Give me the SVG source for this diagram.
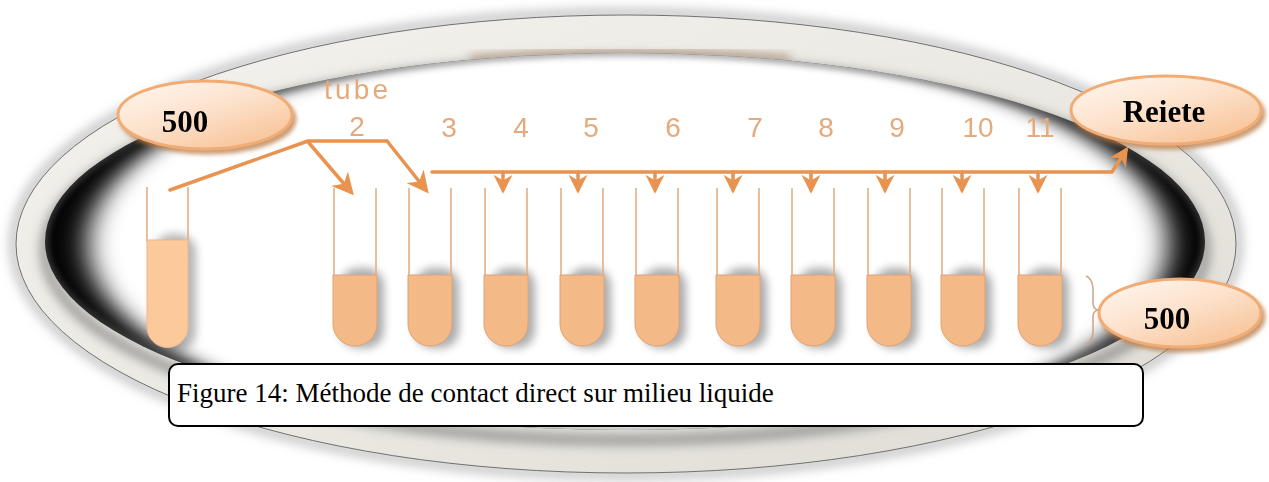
<svg xmlns="http://www.w3.org/2000/svg" xmlns:xlink="http://www.w3.org/1999/xlink" width="1269" height="482" viewBox="0 0 1269 482">
  <defs>
    <style>
      .wall { stroke: #e4ae84; stroke-width: 1.6; fill: none; }
      .liquid { fill: #f3b987; stroke: #e2a274; stroke-width: 1; }
      .liquid-pale { fill: #fcc99b; stroke: #eeb88a; stroke-width: 1; }
      .num { font-family: "Liberation Sans", Arial, sans-serif; font-size: 28px; fill: #e4aa7c; }
      .flow { stroke: #e8934f; stroke-width: 3.5; fill: none; stroke-linejoin: round; stroke-linecap: round; }
      .bubble { fill: url(#bubbleFill); stroke: #f1ac74; stroke-width: 3; }
      .bubble-text { font-family: "Liberation Serif", "Times New Roman", serif; font-weight: bold; font-size: 31px; fill: #000; }
      .caption-text { font-family: "Liberation Serif", "Times New Roman", serif; font-size: 27px; fill: #000; }
    </style>

    <linearGradient id="bubbleFill" x1="0" y1="0" x2="0.8" y2="1">
      <stop offset="0" stop-color="#fff8f2"/>
      <stop offset="0.5" stop-color="#fde2cc"/>
      <stop offset="1" stop-color="#f7c296"/>
    </linearGradient>
    <linearGradient id="ringFill" x1="0" y1="0" x2="1" y2="1">
      <stop offset="0" stop-color="#f3f2ee"/>
      <stop offset="0.6" stop-color="#e9e7e0"/>
      <stop offset="1" stop-color="#dcdad2"/>
    </linearGradient>

    <filter id="soft" x="-10%" y="-10%" width="120%" height="120%">
      <feGaussianBlur stdDeviation="0.7"/>
    </filter>
    <filter id="blur3" x="-10%" y="-10%" width="120%" height="120%">
      <feGaussianBlur stdDeviation="3"/>
    </filter>
    <filter id="blur4" x="-50%" y="-50%" width="200%" height="200%">
      <feGaussianBlur stdDeviation="4"/>
    </filter>
    <filter id="blur6" x="-10%" y="-10%" width="120%" height="120%">
      <feGaussianBlur stdDeviation="6"/>
    </filter>
    <filter id="innerFade" x="-10%" y="-10%" width="120%" height="120%">
      <feGaussianBlur stdDeviation="14 7"/>
    </filter>
    <filter id="bubbleShadow" x="-20%" y="-20%" width="140%" height="150%">
      <feGaussianBlur in="SourceAlpha" stdDeviation="2"/>
      <feOffset dx="3" dy="4" result="b"/>
      <feFlood flood-color="#b97a45" flood-opacity="0.75"/>
      <feComposite in2="b" operator="in"/>
      <feMerge><feMergeNode/><feMergeNode in="SourceGraphic"/></feMerge>
    </filter>

    <clipPath id="insideRing">
      <ellipse cx="625" cy="241.5" rx="580" ry="188.5"/>
    </clipPath>
    <clipPath id="ringBand">
      <path clip-rule="evenodd" d="M16,244 A610,229 0 1,0 1236,244 A610,229 0 1,0 16,244 Z M45,241.5 A580,188.5 0 1,0 1205,241.5 A580,188.5 0 1,0 45,241.5 Z"/>
    </clipPath>

    <marker id="head" viewBox="0 0 10 10" refX="8" refY="5" markerWidth="22" markerHeight="22" markerUnits="userSpaceOnUse" orient="auto">
      <path d="M0,0 L10,5 L0,10 L3,5 Z" fill="#e8934f"/>
    </marker>
    <marker id="headSmall" viewBox="0 0 10 10" refX="8" refY="5" markerWidth="19" markerHeight="19" markerUnits="userSpaceOnUse" orient="auto">
      <path d="M0,0 L10,5 L0,10 L3,5 Z" fill="#e8934f"/>
    </marker>

    <!-- one test tube, centred on x = 0 -->
    <g id="tubeShape">
      <rect x="-15" y="268" width="44" height="80" rx="18" fill="#4a4a4a" opacity="0.45" filter="url(#blur4)"/>
      <line class="wall" x1="-21" y1="188" x2="-21" y2="278"/>
      <line class="wall" x1="21" y1="188" x2="21" y2="278"/>
      <path class="liquid" d="M-22,275 H22 V324 A22,22 0 0 1 -22,324 Z"/>
    </g>
  </defs>

  <rect width="1269" height="482" fill="#ffffff"/>

  <!-- elliptical frame -->
  <g id="ring">
    <ellipse cx="626" cy="244" rx="612" ry="231" fill="none" stroke="#a0a0a0" stroke-width="6" filter="url(#blur6)"/>
    <path fill="url(#ringFill)" fill-rule="evenodd" d="M16,244 A610,229 0 1,0 1236,244 A610,229 0 1,0 16,244 Z M45,241.5 A580,188.5 0 1,0 1205,241.5 A580,188.5 0 1,0 45,241.5 Z"/>
    <g clip-path="url(#ringBand)">
      <ellipse cx="625" cy="250" rx="580" ry="190" fill="none" stroke="#808080" stroke-width="8" filter="url(#blur6)"/>
      <path d="M470,58 Q630,46 790,58" stroke="#8a5a32" stroke-width="5" fill="none" opacity="0.6" filter="url(#blur4)"/>
    </g>
    <ellipse cx="626" cy="244" rx="610" ry="229" fill="none" stroke="#707070" stroke-width="1"/>
    <!-- inner shade: deep at the two ends, faint along top and bottom -->
    <g clip-path="url(#insideRing)">
      <rect x="0" y="0" width="1269" height="482" fill="#050505"/>
      <ellipse cx="628" cy="244" rx="540" ry="200" fill="#ffffff" filter="url(#innerFade)"/>
      <ellipse cx="625" cy="241.5" rx="580" ry="188.5" fill="none" stroke="#6a6a6a" stroke-width="6" opacity="0.55" filter="url(#blur3)"/>
    </g>
  </g>

  <!-- test tubes -->
  <g id="tube-1">
    <rect x="154" y="234" width="42" height="116" rx="18" fill="#4a4a4a" opacity="0.4" filter="url(#blur4)"/>
    <line class="wall" x1="147" y1="187" x2="147" y2="242"/>
    <line class="wall" x1="188" y1="187" x2="188" y2="242"/>
    <path class="liquid-pale" d="M147,240 H188 V327 A20.5,20.5 0 0 1 147,327 Z"/>
  </g>
  <g id="tube-2" transform="translate(355,0)"><use xlink:href="#tubeShape"/></g>
  <g id="tube-3" transform="translate(430,0)"><use xlink:href="#tubeShape"/></g>
  <g id="tube-4" transform="translate(506,0)"><use xlink:href="#tubeShape"/></g>
  <g id="tube-5" transform="translate(582,0)"><use xlink:href="#tubeShape"/></g>
  <g id="tube-6" transform="translate(657,0)"><use xlink:href="#tubeShape"/></g>
  <g id="tube-7" transform="translate(738,0)"><use xlink:href="#tubeShape"/></g>
  <g id="tube-8" transform="translate(813,0)"><use xlink:href="#tubeShape"/></g>
  <g id="tube-9" transform="translate(889,0)"><use xlink:href="#tubeShape"/></g>
  <g id="tube-10" transform="translate(963,0)"><use xlink:href="#tubeShape"/></g>
  <g id="tube-11" transform="translate(1040,0)"><use xlink:href="#tubeShape"/></g>

  <!-- tube numbering -->
  <g id="tube-labels" filter="url(#soft)">
    <text class="num" x="356" y="99" text-anchor="middle" textLength="64" lengthAdjust="spacing" fill="#e9bb95">tube</text>
    <text class="num" x="357" y="136" text-anchor="middle">2</text>
    <text class="num" x="449" y="137" text-anchor="middle">3</text>
    <text class="num" x="521" y="137" text-anchor="middle">4</text>
    <text class="num" x="591" y="137" text-anchor="middle">5</text>
    <text class="num" x="673" y="137" text-anchor="middle">6</text>
    <text class="num" x="755" y="137" text-anchor="middle">7</text>
    <text class="num" x="826" y="137" text-anchor="middle">8</text>
    <text class="num" x="897" y="137" text-anchor="middle">9</text>
    <text class="num" x="978" y="137" text-anchor="middle">10</text>
    <text class="num" x="1040" y="137" text-anchor="middle">11</text>
  </g>

  <!-- transfer arrows -->
  <g id="connectors" filter="url(#soft)">
    <path class="flow" d="M170,190 L308,141 L387,141"/>
    <path class="flow" d="M309,143 L351,192" marker-end="url(#head)"/>
    <path class="flow" d="M387,141 L426,190" marker-end="url(#head)"/>
    <path class="flow" d="M432,172 L1112,172 L1126,150" marker-end="url(#headSmall)"/>
    <path class="flow" d="M503,172 L503,190" marker-end="url(#headSmall)"/>
    <path class="flow" d="M578,172 L578,190" marker-end="url(#headSmall)"/>
    <path class="flow" d="M655,172 L655,190" marker-end="url(#headSmall)"/>
    <path class="flow" d="M733,172 L733,190" marker-end="url(#headSmall)"/>
    <path class="flow" d="M811,172 L811,190" marker-end="url(#headSmall)"/>
    <path class="flow" d="M885,172 L885,190" marker-end="url(#headSmall)"/>
    <path class="flow" d="M962,172 L962,190" marker-end="url(#headSmall)"/>
    <path class="flow" d="M1038,172 L1038,190" marker-end="url(#headSmall)"/>
  </g>

  <!-- brace grouping the tubes -->
  <g id="brace">
    <path d="M1086,276 Q1094,279 1093,296 L1093,303 Q1093,309 1098,310 Q1093,311 1093,317 L1093,327 Q1094,341 1086,344" fill="none" stroke="#cfa98a" stroke-width="1.6"/>
  </g>

  <!-- callouts -->
  <g id="node-500-top" filter="url(#bubbleShadow)">
    <ellipse class="bubble" cx="205" cy="115" rx="87" ry="34"/>
    <text class="bubble-text" x="185" y="132" text-anchor="middle">500</text>
  </g>
  <g id="node-reiete" filter="url(#bubbleShadow)">
    <ellipse class="bubble" cx="1166" cy="110" rx="95" ry="34"/>
    <text class="bubble-text" x="1164" y="122" text-anchor="middle">Reiete</text>
  </g>
  <g id="node-500-bottom" filter="url(#bubbleShadow)">
    <ellipse class="bubble" cx="1180" cy="313" rx="81" ry="34"/>
    <text class="bubble-text" x="1167" y="329" text-anchor="middle">500</text>
  </g>

  <!-- caption -->
  <g id="caption">
    <rect x="169" y="364" width="974" height="62" rx="9" fill="#ffffff" stroke="#000000" stroke-width="2"/>
    <text class="caption-text" x="177" y="402">Figure 14: Méthode de contact direct sur milieu liquide</text>
  </g>
</svg>
